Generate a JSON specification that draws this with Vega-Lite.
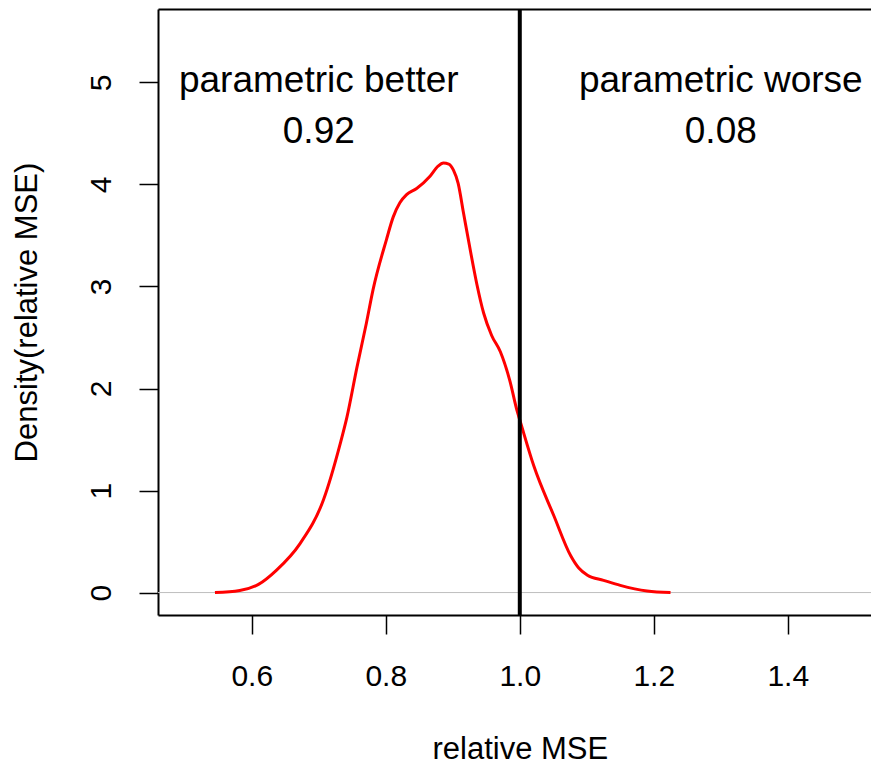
{
  "$schema": "https://vega.github.io/schema/vega-lite/v6.json",
  "width": 713,
  "height": 606,
  "autosize": {"type": "none"},
  "padding": {"left": 158, "top": 9, "right": 0, "bottom": 150},
  "background": "white",
  "config": {
    "view": {"stroke": null},
    "font": "Liberation Sans",
    "axis": {"grid": false}
  },
  "datasets": {
    "curve": [
      {"mse": 0.545, "density": 0.0},
      {"mse": 0.582, "density": 0.02},
      {"mse": 0.61, "density": 0.08},
      {"mse": 0.637, "density": 0.22},
      {"mse": 0.672, "density": 0.48},
      {"mse": 0.707, "density": 0.91},
      {"mse": 0.732, "density": 1.46},
      {"mse": 0.742, "density": 1.72},
      {"mse": 0.757, "density": 2.21},
      {"mse": 0.771, "density": 2.64},
      {"mse": 0.781, "density": 2.97},
      {"mse": 0.801, "density": 3.46},
      {"mse": 0.811, "density": 3.68},
      {"mse": 0.821, "density": 3.82},
      {"mse": 0.831, "density": 3.9},
      {"mse": 0.846, "density": 3.96},
      {"mse": 0.866, "density": 4.08},
      {"mse": 0.878, "density": 4.18},
      {"mse": 0.886, "density": 4.21},
      {"mse": 0.894, "density": 4.2},
      {"mse": 0.901, "density": 4.14},
      {"mse": 0.908, "density": 4.01},
      {"mse": 0.916, "density": 3.72},
      {"mse": 0.926, "density": 3.36},
      {"mse": 0.936, "density": 3.02},
      {"mse": 0.946, "density": 2.74},
      {"mse": 0.958, "density": 2.52},
      {"mse": 0.971, "density": 2.36},
      {"mse": 0.985, "density": 2.08},
      {"mse": 0.996, "density": 1.78},
      {"mse": 1.001, "density": 1.67},
      {"mse": 1.021, "density": 1.24},
      {"mse": 1.051, "density": 0.75},
      {"mse": 1.076, "density": 0.36},
      {"mse": 1.088, "density": 0.24},
      {"mse": 1.101, "density": 0.17},
      {"mse": 1.125, "density": 0.12},
      {"mse": 1.15, "density": 0.07},
      {"mse": 1.19, "density": 0.015},
      {"mse": 1.225, "density": 0.0}
    ],
    "labels": [
      {"mse": 0.7, "density": 5.0, "label": "parametric better"},
      {"mse": 0.7, "density": 4.5, "label": "0.92"},
      {"mse": 1.3, "density": 5.0, "label": "parametric worse"},
      {"mse": 1.3, "density": 4.5, "label": "0.08"}
    ],
    "zero": [{"density": 0}],
    "cut": [{"mse": 1.0}]
  },
  "layer": [
    {
      "data": {"name": "zero"},
      "mark": {"type": "rule", "color": "#BEBEBE", "strokeWidth": 1},
      "encoding": {
        "y": {"field": "density", "type": "quantitative", "scale": {"domain": [-0.22, 5.72], "nice": false, "zero": false}, "axis": null}
      }
    },
    {
      "data": {"name": "curve"},
      "mark": {"type": "line", "color": "#FF0000", "strokeWidth": 3, "interpolate": "monotone"},
      "encoding": {
        "x": {
          "field": "mse", "type": "quantitative",
          "scale": {"domain": [0.46, 1.5242], "nice": false, "zero": false},
          "axis": {
            "orient": "bottom",
            "values": [0.6, 0.8, 1.0, 1.2, 1.4],
            "format": ".1f",
            "title": "relative MSE",
            "domainColor": "black", "domainWidth": 2,
            "tickColor": "black", "tickWidth": 1.5, "tickSize": 19,
            "labelFont": "Liberation Sans", "labelFontSize": 30, "labelColor": "black",
            "labelBaseline": "alphabetic", "labelPadding": 51,
            "titleFont": "Liberation Sans", "titleFontSize": 31, "titleFontWeight": "normal", "titleColor": "black",
            "titleBaseline": "alphabetic", "titleAlign": "center", "titleX": 361.8, "titleY": 143
          }
        },
        "y": {
          "field": "density", "type": "quantitative",
          "scale": {"domain": [-0.22, 5.72], "nice": false, "zero": false},
          "axis": {
            "orient": "left",
            "values": [0, 1, 2, 3, 4, 5],
            "title": "Density(relative MSE)",
            "domainColor": "black", "domainWidth": 2,
            "tickColor": "black", "tickWidth": 1.5, "tickSize": 19,
            "labelFont": "Liberation Sans", "labelFontSize": 30, "labelColor": "black",
            "labelAngle": -90, "labelAlign": "center", "labelBaseline": "alphabetic", "labelPadding": 29,
            "titleFont": "Liberation Sans", "titleFontSize": 31, "titleFontWeight": "normal", "titleColor": "black",
            "titleAngle": -90, "titleBaseline": "alphabetic", "titleAlign": "center", "titleX": -122, "titleY": 303
          }
        }
      }
    },
    {
      "data": {"name": "cut"},
      "mark": {"type": "rule", "color": "black", "strokeWidth": 4},
      "encoding": {
        "x": {
          "field": "mse", "type": "quantitative",
          "scale": {"domain": [0.46, 1.5242], "nice": false, "zero": false},
          "axis": {"orient": "top", "labels": false, "ticks": false, "title": null, "domainColor": "black", "domainWidth": 2}
        }
      }
    },
    {
      "data": {"name": "labels"},
      "mark": {"type": "text", "font": "Liberation Sans", "fontSize": 37, "color": "black", "align": "center", "baseline": "alphabetic", "dy": 9.5},
      "encoding": {
        "x": {"field": "mse", "type": "quantitative", "scale": {"domain": [0.46, 1.5242], "nice": false, "zero": false}, "axis": null},
        "y": {"field": "density", "type": "quantitative", "scale": {"domain": [-0.22, 5.72], "nice": false, "zero": false}, "axis": null},
        "text": {"field": "label"}
      }
    }
  ],
  "resolve": {"axis": {"x": "independent", "y": "independent"}}
}
